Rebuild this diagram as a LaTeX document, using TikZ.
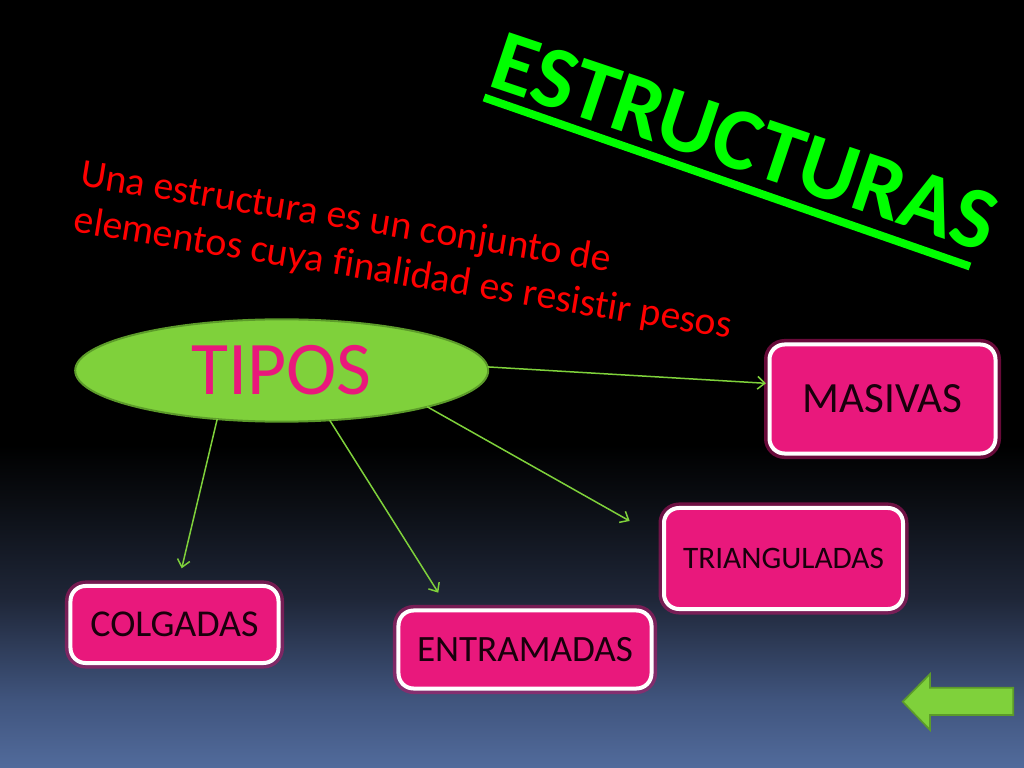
\documentclass[tikz,border=0pt]{standalone}
\usepackage{fontspec}
\setmainfont{Carlito}[RawFeature={-liga}]
\usetikzlibrary{arrows.meta,shapes.geometric}
\definecolor{titlegreen}{RGB}{0,255,0}
\definecolor{subred}{RGB}{255,0,0}
\definecolor{boxpink}{RGB}{233,24,124}
\definecolor{glowpink}{RGB}{190,20,105}
\definecolor{boxtext}{RGB}{25,0,12}
\definecolor{ellgreen}{RGB}{127,209,59}
\definecolor{ellborder}{RGB}{92,155,42}
\pgfdeclareverticalshading{bgshade}{100bp}{rgb(0bp)=(0.32,0.42,0.61); rgb(25bp)=(0.32,0.42,0.61); rgb(29.5bp)=(0.25,0.33,0.49); rgb(36bp)=(0.12,0.15,0.22); rgb(42.5bp)=(0.04,0.05,0.07); rgb(46bp)=(0,0,0); rgb(100bp)=(0,0,0)}
\begin{document}
\begin{tikzpicture}[x=0.03cm,y=-0.03cm,
  boxnode/.style={rectangle, rounded corners=0.45cm, fill=boxpink, draw=white,
    line width=0.12cm, inner sep=0pt, outer sep=0pt, text=boxtext,
    preaction={draw=glowpink, line width=0.33cm, opacity=0.55}},
  conn/.style={draw=ellgreen, line width=0.045cm, -{Straight Barb[length=0.22cm,width=0.38cm]}},
  subtext/.style={text=subred, inner sep=0pt, outer sep=0pt, rotate=-9.2, anchor=base west,
    font=\fontsize{33.9pt}{40pt}\selectfont}]
\useasboundingbox (0,0) rectangle (1024,768);
\shade[shading=bgshade] (0,0) rectangle (1024,768);

% title
\node[text=titlegreen, inner sep=0pt, outer sep=0pt, rotate=-18.5, anchor=base west,
  font=\fontsize{75.5pt}{80pt}\selectfont\bfseries] (title) at (486,86) {ESTRUCTURAS};
\coordinate (ulA) at (484,97.5);
\coordinate (ulB) at (970,266.5);
\draw[titlegreen, line width=0.24cm] (ulA) -- (ulB);

% definition
\node[subtext] (sub1) at (79,186) {Una estructura es un conjunto de};
\node[subtext] (sub2) at (72.5,232) {elementos cuya finalidad es resistir pesos};

% central ellipse
\node[ellipse, fill=ellgreen, draw=ellborder, line width=0.06cm, inner sep=0pt, outer sep=0pt,
  minimum width=12.39cm, minimum height=3.07cm, text=boxpink,
  font=\fontsize{64.7pt}{70pt}\selectfont] (tipos) at (281.7,370.5) {TIPOS};

% boxes
\node[boxnode, minimum width=6.78cm, minimum height=3.27cm,
  font=\fontsize{36.8pt}{40pt}\selectfont] (mas) at (882.5,399) {MASIVAS};
\node[boxnode, minimum width=7.17cm, minimum height=3.03cm,
  font=\fontsize{26.7pt}{30pt}\selectfont] (tri) at (783.5,558.5) {TRIANGULADAS};
\node[boxnode, minimum width=6.24cm, minimum height=2.31cm,
  font=\fontsize{32.4pt}{36pt}\selectfont] (col) at (174.5,624.5) {COLGADAS};
\node[boxnode, minimum width=7.59cm, minimum height=2.34cm,
  font=\fontsize{31.7pt}{36pt}\selectfont] (ent) at (525,649.5) {ENTRAMADAS};

% connector ends
\coordinate (emas) at (766,383.3);
\coordinate (etri) at (629.7,521);
\coordinate (ecol) at (181.7,568.3);
\coordinate (eent) at (438.3,592.7);

\draw[conn] (tipos.1.2) -- (emas);
\draw[conn] (tipos.-14.7) -- (etri);
\draw[conn] (tipos.-143) -- (ecol);
\draw[conn] (tipos.-46.7) -- (eent);

% back arrow
\draw[fill=ellgreen, draw=ellborder, line width=0.05cm, line join=miter]
  (902.7,701.7) -- (930,674) -- (930,687.7) -- (1013.3,687.7) -- (1013.3,715)
  -- (930,715) -- (930,730) -- cycle;
\end{tikzpicture}
\end{document}
